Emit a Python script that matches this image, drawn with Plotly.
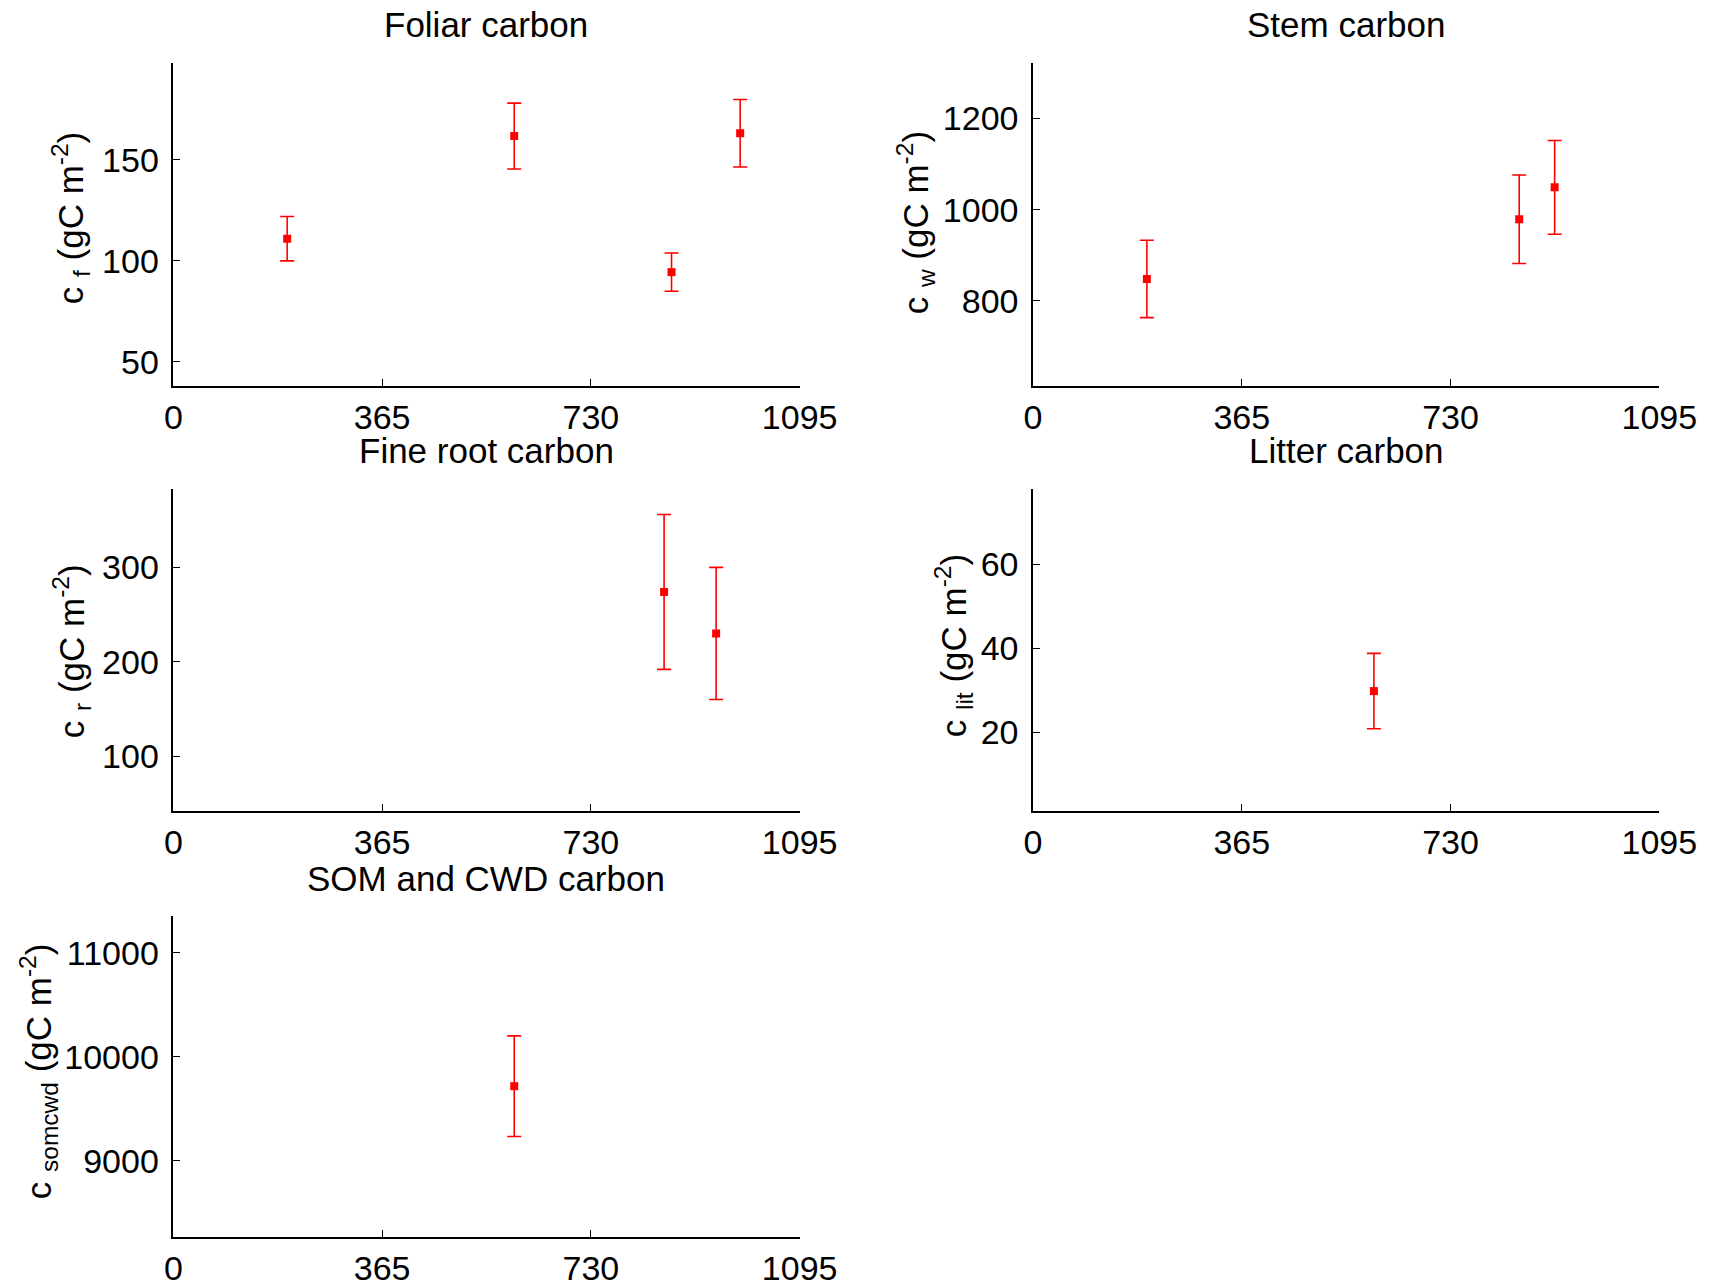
import plotly.graph_objects as go

W, H = 1709, 1287

# Observation days and carbon pools (gC m-2) with their uncertainties
foliar_days = [199, 596, 871, 991]
foliar_c = [111.0, 161.8, 94.4, 163.2]
foliar_err = [11.0, 16.3, 9.5, 16.7]

stem_days = [199, 850, 912]
stem_c = [848, 979, 1049]
stem_err = [85, 97, 103]

root_days = [858, 949]
root_c = [274, 230]
root_err = [82, 70]

litter_days = [596]
litter_c = [29.8]
litter_err = [9.0]

somcwd_days = [596]
somcwd_c = [9718]
somcwd_err = [484]

day_ticks = [0, 365, 730, 1095]

titles = ["Foliar carbon", "Stem carbon", "Fine root carbon", "Litter carbon", "SOM and CWD carbon"]
ylabels = [
    "c <sub>f</sub> (gC m<sup>-2</sup>)",
    "c <sub>w</sub> (gC m<sup>-2</sup>)",
    "c <sub>r</sub> (gC m<sup>-2</sup>)",
    "c <sub>lit</sub> (gC m<sup>-2</sup>)",
    "c <sub>somcwd</sub> (gC m<sup>-2</sup>)",
]
yticks = [[50, 100, 150], [800, 1000, 1200], [100, 200, 300], [20, 40, 60], [9000, 10000, 11000]]
yranges = [[38, 198], [613, 1322], [42, 383], [1.2, 78], [8267, 11355]]

series = [
    (foliar_days, foliar_c, foliar_err),
    (stem_days, stem_c, stem_err),
    (root_days, root_c, root_err),
    (litter_days, litter_c, litter_err),
    (somcwd_days, somcwd_c, somcwd_err),
]

# panel boxes in layout pixels: left, right, top, bottom
cols = [(169, 813), (1053, 1697)]
rows = [(63, 386), (489, 811), (916, 1237)]
boxes = [
    (cols[0], rows[0]), (cols[1], rows[0]),
    (cols[0], rows[1]), (cols[1], rows[1]),
    (cols[0], rows[2]),
]
ylabel_pos = [(64, 218), (933, 223), (64, 651), (972, 646), (30, 1071)]
title_y = [24, 24, 451, 451, 878]

FONT = "Liberation Sans, Arial, sans-serif"
TITLE_FS = 35
TICK_FS = 34
LABEL_FS = 35

fig = go.Figure()
layout = dict(
    width=W, height=H, autosize=False,
    margin=dict(l=0, r=0, t=0, b=0, pad=0),
    paper_bgcolor="white", plot_bgcolor="white",
    showlegend=False,
    font=dict(family=FONT, size=TICK_FS, color="black"),
)
annotations = []

for i, ((xs, ys, es), ((l, r), (t, b))) in enumerate(zip(series, boxes)):
    n = i + 1
    xa = "x" if n == 1 else f"x{n}"
    ya = "y" if n == 1 else f"y{n}"
    fig.add_trace(go.Scatter(
        x=xs, y=ys, mode="markers",
        marker=dict(symbol="square", size=8, color="red"),
        error_y=dict(type="data", array=es, color="red", thickness=1.6, width=7),
        xaxis=xa, yaxis=ya,
    ))
    common = dict(
        showline=True, linecolor="black", linewidth=1.5,
        showgrid=False, zeroline=False, mirror=False,
        ticks="inside", ticklen=7, tickcolor="black", tickwidth=1.2,
        tickfont=dict(family=FONT, size=TICK_FS, color="black"),
    )
    layout[f"xaxis{n}" if n > 1 else "xaxis"] = dict(
        common, domain=[l / W, r / W], range=[0, 1095],
        tickvals=day_ticks, ticktext=[str(v) for v in day_ticks],
        anchor=ya, ticklabelstandoff=0,
    )
    layout[f"yaxis{n}" if n > 1 else "yaxis"] = dict(
        common, domain=[1 - b / H, 1 - t / H], range=yranges[i],
        tickvals=yticks[i], ticktext=[str(v) for v in yticks[i]],
        anchor=xa, ticklabelstandoff=6,
    )
    annotations.append(dict(
        text=titles[i], xref="paper", yref="paper",
        x=(l + r) / 2 / W, y=1 - title_y[i] / H,
        xanchor="center", yanchor="middle", showarrow=False,
        font=dict(family=FONT, size=TITLE_FS, color="black"),
    ))
    lx, ly = ylabel_pos[i]
    annotations.append(dict(
        text=ylabels[i], xref="paper", yref="paper",
        x=lx / W, y=1 - ly / H, textangle=-90,
        xanchor="center", yanchor="middle", showarrow=False,
        font=dict(family=FONT, size=LABEL_FS, color="black"),
    ))

layout["annotations"] = annotations
fig.update_layout(**layout)

# keep the page flush with the window so the figure is shown at its own size
page_fix = (
    "document.documentElement.style.margin='0';"
    "document.body.style.margin='0';"
    "document.body.style.overflow='hidden';"
)
fig.write_html("out.html", config={"responsive": False}, post_script=page_fix)
